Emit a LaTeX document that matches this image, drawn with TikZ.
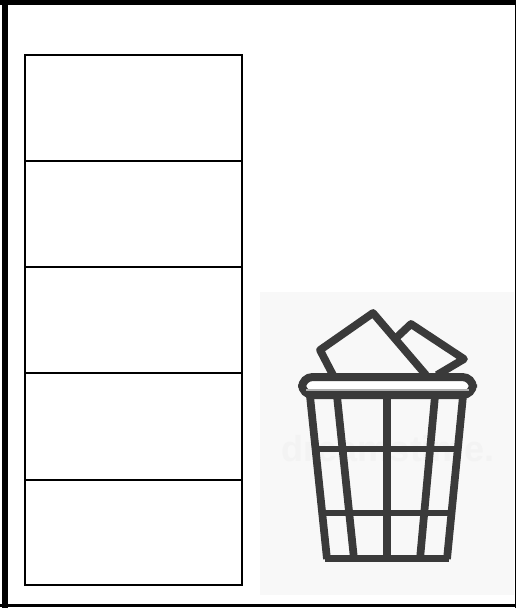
\documentclass[tikz,border=0pt]{standalone}
\usepackage{fontspec}
\setmainfont{Liberation Sans}
\definecolor{binc}{HTML}{3A3A3A}
\definecolor{panel}{HTML}{F8F8F8}
\definecolor{wm}{HTML}{F3F3F3}
\definecolor{stripe}{HTML}{B0B0B0}
\tikzset{
  px/.style={x=0.75pt,y=-0.75pt},
  cellbox/.style={draw=black,line width=1.5pt,fill=white,line join=miter},
  binline/.style={draw=binc,line width=5.8pt,line cap=butt,line join=round},
  thinbin/.style={draw=binc,line width=5.2pt,line cap=butt,line join=round},
}
\begin{document}
\begin{tikzpicture}[px]
\useasboundingbox (0,0) rectangle (516,608);
\fill[white] (0,0) rectangle (516,608);
% outer frame
\fill[black] (0,0) rectangle (516,4.5);
\fill[black] (2,0) rectangle (7.5,608);
\fill[black] (0,604) rectangle (516,607);
\fill[black] (514.5,0) rectangle (516,608);
% table
\coordinate (t0) at (25,55);
\coordinate (t1) at (242,161);
\coordinate (t2) at (25,161);
\coordinate (t3) at (242,267);
\coordinate (t4) at (25,267);
\coordinate (t5) at (242,373);
\coordinate (t6) at (25,373);
\coordinate (t7) at (242,480);
\coordinate (t8) at (25,480);
\coordinate (t9) at (242,585);
\draw[cellbox] (t0) rectangle (t1);
\draw[cellbox] (t2) rectangle (t3);
\draw[cellbox] (t4) rectangle (t5);
\draw[cellbox] (t6) rectangle (t7);
\draw[cellbox] (t8) rectangle (t9);
% picture panel
\fill[panel] (260,292) rectangle (514,595);
\node[text=wm,font=\bfseries\fontsize{27}{27}\selectfont,anchor=center,inner sep=0pt] (mark) at (388,449) {dreamstime.};
% papers
\draw[binline] (333,375) -- (320,350) -- (373,313) -- (426,375);
\draw[binline] (395,339) -- (411,324) -- (464,359) -- (437,375);
% basket
\draw[binline] (310,396) -- (327,559);
\draw[binline] (463,396) -- (447,559);
\draw[binline] (337,396) -- (354,559);
\draw[binline] (435,396) -- (420,559);
\draw[binline] (387,396) -- (387,559);
\draw[thinbin] (318,449) -- (455,449);
\draw[thinbin] (323,513) -- (451,513);
\draw[binc,line width=5.8pt] (325,558.5) -- (449,558.5);
% rim
\draw[draw=binc,line width=6pt,fill=white,rounded corners=8pt] (302,377) rectangle (473,395);
\fill[stripe] (306,388.5) rectangle (469,391);
\end{tikzpicture}
\end{document}
